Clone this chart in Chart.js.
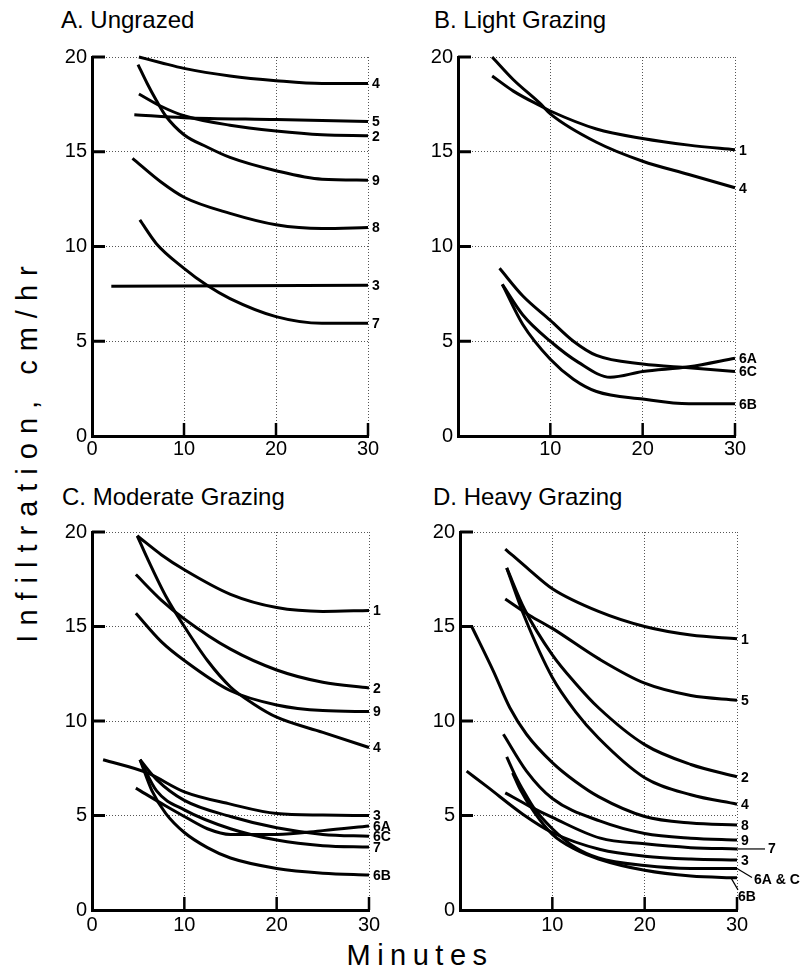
<!DOCTYPE html>
<html>
<head>
<meta charset="utf-8">
<script src="https://cdn.jsdelivr.net/npm/chart.js@4.4.1/dist/chart.umd.min.js"></script>
<style>
  body { margin: 0; background: #fff; width: 800px; height: 978px; position: relative; overflow: hidden;
         font-family: "Liberation Sans", Arial, Helvetica, sans-serif; color: #000; }
  canvas { position: absolute; }
  .title { position: absolute; font-size: 24px; white-space: nowrap; }
  .axt { position: absolute; font-size: 29px; white-space: nowrap; }
</style>
</head>
<body>
<div class="title" style="left:61px;top:6px">A. Ungrazed</div>
<div class="title" style="left:434px;top:6px">B. Light Grazing</div>
<div class="title" style="left:62px;top:483px">C. Moderate Grazing</div>
<div class="title" style="left:433px;top:483px">D. Heavy Grazing</div>
<div class="axt" id="ytitle" style="left:27px;top:450px;letter-spacing:9px;transform:translate(-50%,-50%) rotate(-90deg)">Infiltration, cm/hr</div>
<div class="axt" style="left:420px;top:955px;letter-spacing:6.5px;transform:translate(-50%,-50%)">Minutes</div>

<canvas id="chartA" width="400" height="470" style="left:0;top:0"></canvas>
<canvas id="chartB" width="400" height="470" style="left:400px;top:0"></canvas>
<canvas id="chartC" width="400" height="470" style="left:0;top:470px"></canvas>
<canvas id="chartD" width="400" height="470" style="left:400px;top:470px"></canvas>

<script>
// tick values
const minutesTicks = [0, 10, 20, 30];
const rateTicks = [0, 5, 10, 15, 20];

// A. Ungrazed  [minutes, cm/hr]
const ungrazed4 = [[5.1, 20.0], [7.5, 19.7], [10, 19.4], [15, 19.0], [20, 18.75], [25, 18.6], [30, 18.6]];
const ungrazed5 = [[4.6, 16.95], [10, 16.8], [20, 16.7], [30, 16.6]];
const ungrazed2 = [[5.1, 18.05], [7.5, 17.4], [10, 16.9], [15, 16.4], [20, 16.1], [25, 15.9], [30, 15.85]];
const ungrazed9 = [[5.0, 19.6], [6, 18.6], [7, 17.7], [8, 16.9], [10, 15.9], [12.5, 15.25], [15, 14.7], [20, 14.0], [25, 13.55], [30, 13.5]];
const ungrazed8 = [[4.4, 14.65], [7.5, 13.4], [10, 12.6], [15, 11.75], [20, 11.15], [25, 10.95], [30, 11.0]];
const ungrazed3 = [[2.1, 7.9], [30, 7.95]];
const ungrazed7 = [[5.2, 11.4], [7, 10.15], [10, 8.85], [12.5, 7.95], [15, 7.25], [20, 6.3], [25, 5.95], [30, 5.95]];

// B. Light Grazing
const light1 = [[3.7, 19.0], [6, 18.2], [9, 17.4], [10, 17.15], [15, 16.2], [20, 15.7], [25, 15.35], [30, 15.1]];
const light4 = [[3.7, 20.0], [6, 18.8], [9, 17.5], [10, 17.0], [15, 15.5], [20, 14.5], [25, 13.8], [30, 13.1]];
const light6A = [[4.8, 8.0], [7, 6.4], [10, 5.0], [13, 3.9], [16.5, 3.1], [20, 3.4], [25, 3.65], [30, 4.1]];
const light6C = [[4.5, 8.85], [7, 7.4], [10, 6.1], [12.5, 5.0], [15, 4.25], [20, 3.8], [25, 3.6], [30, 3.4]];
const light6B = [[4.8, 8.0], [7, 5.9], [10, 4.05], [12.5, 3.0], [15, 2.35], [20, 1.95], [25, 1.7], [30, 1.7]];

// C. Moderate Grazing
const moderate1 = [[4.9, 19.8], [7.5, 18.8], [10, 18.0], [15, 16.7], [20, 16.0], [25, 15.8], [30, 15.85]];
const moderate2 = [[4.75, 17.75], [7.5, 16.4], [10, 15.4], [15, 13.8], [20, 12.7], [25, 12.05], [30, 11.75]];
const moderate9 = [[4.75, 15.7], [7.5, 14.2], [10, 13.2], [15, 11.6], [20, 10.85], [25, 10.55], [30, 10.5]];
const moderate4 = [[4.9, 19.8], [6, 18.6], [8, 16.6], [10, 15.0], [12.5, 13.2], [15, 11.8], [17.5, 10.9], [20, 10.2], [25, 9.4], [30, 8.6]];
const moderate3 = [[1.2, 7.95], [6, 7.25], [10, 6.25], [15, 5.6], [20, 5.1], [25, 5.02], [30, 5.0]];
const moderate6A = [[4.75, 6.45], [8, 5.5], [10, 4.95], [12.5, 4.3], [15, 4.0], [20, 4.0], [25, 4.2], [30, 4.45]];
const moderate6C = [[5.2, 7.95], [7, 6.9], [10, 5.8], [15, 4.95], [20, 4.35], [25, 4.0], [30, 3.9]];
const moderate7 = [[5.2, 7.95], [7, 6.3], [10, 5.3], [15, 4.3], [20, 3.7], [25, 3.4], [30, 3.33]];
const moderate6B = [[5.2, 7.95], [6.5, 6.3], [8, 5.1], [10, 4.1], [12.5, 3.3], [15, 2.75], [20, 2.2], [25, 1.95], [30, 1.85]];

// D. Heavy Grazing
const heavy1 = [[4.9, 19.1], [7.5, 18.0], [10, 17.0], [15, 15.8], [20, 15.0], [25, 14.55], [30, 14.35]];
const heavy5 = [[4.9, 16.45], [7.5, 15.6], [10, 14.9], [15, 13.3], [20, 12.0], [25, 11.35], [30, 11.1]];
const heavy2 = [[5.06, 18.1], [7, 15.9], [10, 13.5], [12.5, 12.0], [15, 10.7], [20, 8.75], [25, 7.7], [30, 7.05]];
const heavy4 = [[5.06, 18.1], [7, 15.5], [10, 12.3], [12.5, 10.5], [15, 9.1], [20, 7.0], [25, 6.1], [30, 5.6]];
const heavy8 = [[1.27, 15.0], [3.6, 12.65], [5.4, 10.7], [7.2, 9.3], [10, 7.8], [12.5, 6.8], [15, 6.0], [20, 4.95], [25, 4.6], [30, 4.5]];
const heavy9 = [[4.7, 9.3], [7.2, 7.35], [10, 5.9], [15.2, 4.7], [20, 4.05], [25, 3.8], [30, 3.7]];
const heavy7 = [[4.9, 6.2], [7.5, 5.5], [10, 4.9], [15.2, 3.8], [20, 3.5], [25, 3.3], [30, 3.23]];
const heavy3 = [[0.72, 7.35], [3, 6.5], [6.8, 5.07], [10, 4.1], [15.2, 3.2], [20, 2.85], [25, 2.7], [30, 2.65]];
const heavy6AC = [[5.06, 8.1], [6, 7.1], [7, 6.2], [8, 5.4], [10, 4.3], [12.5, 3.3], [15, 2.75], [20, 2.35], [25, 2.2], [30, 2.2]];
const heavy6B = [[5.7, 7.26], [6.5, 6.4], [8, 5.2], [10, 4.0], [12.5, 3.2], [15, 2.7], [20, 2.1], [25, 1.8], [30, 1.7]];

// curve label styles (offsets only, in px)
const leaderStyle = {
  '7': { line: [[0, 0], [28, 0]], text: [31, 0] },
  '6A & C': { line: [[0, 0], [15, 9]], text: [17, 12] },
  '6B': { line: [[-6, 0], [1, 12]], text: [1, 19] }
};

const FONT = '"Liberation Sans", Arial, Helvetica, sans-serif';

const innerTicks = {
  id: 'innerTicks',
  afterDraw(chart) {
    const { ctx, chartArea: a, scales: { x, y } } = chart;
    ctx.save();
    ctx.strokeStyle = '#000';
    ctx.lineWidth = 3;
    rateTicks.forEach(v => {
      if (!v) return;
      const py = y.getPixelForValue(v);
      ctx.beginPath(); ctx.moveTo(a.left, py); ctx.lineTo(a.left + 13, py); ctx.stroke();
    });
    ctx.lineWidth = 2.5;
    minutesTicks.forEach(v => {
      if (!v) return;
      const px = x.getPixelForValue(v);
      ctx.beginPath(); ctx.moveTo(px, a.bottom); ctx.lineTo(px, a.bottom - 13); ctx.stroke();
    });
    ctx.restore();
  }
};

const endLabels = {
  id: 'endLabels',
  afterDatasetsDraw(chart) {
    const ctx = chart.ctx;
    ctx.save();
    ctx.font = 'bold 14px ' + FONT;
    ctx.fillStyle = '#000';
    ctx.strokeStyle = '#000';
    ctx.lineWidth = 1.2;
    ctx.textBaseline = 'middle';
    chart.data.datasets.forEach((ds, i) => {
      const pts = chart.getDatasetMeta(i).data;
      const p = pts[pts.length - 1];
      const st = chart.options.plugins.endLabels.leaders ? leaderStyle[ds.label] : null;
      if (st) {
        ctx.beginPath();
        ctx.moveTo(p.x + st.line[0][0], p.y + st.line[0][1]);
        ctx.lineTo(p.x + st.line[1][0], p.y + st.line[1][1]);
        ctx.stroke();
        ctx.fillText(ds.label, p.x + st.text[0], p.y + st.text[1]);
      } else {
        ctx.fillText(ds.label, p.x + 4, p.y + 1);
      }
    });
    ctx.restore();
  }
};

function makePanel(id, curves, names, box) {
  const datasets = curves.map((c, i) => ({
    label: names[i],
    data: c.map(p => ({ x: p[0], y: p[1] })),
    borderColor: '#000',
    borderWidth: 3,
    pointRadius: 0,
    cubicInterpolationMode: 'monotone',
    fill: false,
    clip: false
  }));
  const gridColor = ctx => (ctx.tick && ctx.tick.value === 0) ? 'rgba(0,0,0,0)' : '#555';
  new Chart(document.getElementById(id), {
    type: 'line',
    data: { datasets },
    options: {
      responsive: false,
      animation: false,
      layout: { padding: { left: 0, top: box.top, right: box.right, bottom: 0 } },
      plugins: {
        legend: { display: false },
        tooltip: { enabled: false },
        title: { display: false },
        endLabels: { leaders: !!box.leaders }
      },
      scales: {
        x: {
          type: 'linear', min: 0, max: 30,
          afterFit: s => { s.height = box.xh; },
          afterBuildTicks: s => { s.ticks = minutesTicks.map(v => ({ value: v })); },
          ticks: {
            color: '#000', padding: box.xpad, maxRotation: 0, autoSkip: false,
            font: { family: FONT, size: 20 },
            callback: v => (v === 0 && !box.zero) ? '' : v
          },
          grid: { color: gridColor, lineWidth: 1, drawTicks: false },
          border: { display: true, color: '#000', width: 3, dash: [1, 2] }
        },
        y: {
          type: 'linear', min: 0, max: 20,
          afterFit: s => { s.width = box.yw; },
          afterBuildTicks: s => { s.ticks = rateTicks.map(v => ({ value: v })); },
          ticks: {
            color: '#000', padding: 5, autoSkip: false,
            font: { family: FONT, size: 20 }
          },
          grid: { color: gridColor, lineWidth: 1, drawTicks: false },
          border: { display: true, color: '#000', width: 3, dash: [1, 2] }
        }
      }
    },
    plugins: [innerTicks, endLabels]
  });
}

makePanel('chartA',
  [ungrazed4, ungrazed5, ungrazed2, ungrazed9, ungrazed8, ungrazed3, ungrazed7],
  ['4', '5', '2', '9', '8', '3', '7'],
  { top: 57, right: 32, yw: 92, xh: 34, xpad: 1, zero: true });

makePanel('chartB',
  [light1, light4, light6A, light6C, light6B],
  ['1', '4', '6A', '6C', '6B'],
  { top: 57, right: 65, yw: 58, xh: 34, xpad: 1, zero: false });

makePanel('chartC',
  [moderate1, moderate2, moderate9, moderate4, moderate3, moderate6A, moderate6C, moderate7, moderate6B],
  ['1', '2', '9', '4', '3', '6A', '6C', '7', '6B'],
  { top: 62, right: 31, yw: 92, xh: 30, xpad: 3, zero: true });

makePanel('chartD',
  [heavy1, heavy5, heavy2, heavy4, heavy8, heavy9, heavy7, heavy3, heavy6AC, heavy6B],
  ['1', '5', '2', '4', '8', '9', '7', '3', '6A & C', '6B'],
  { top: 62, right: 63, yw: 60, xh: 30, xpad: 3, zero: false, leaders: true });
</script>
</body>
</html>
